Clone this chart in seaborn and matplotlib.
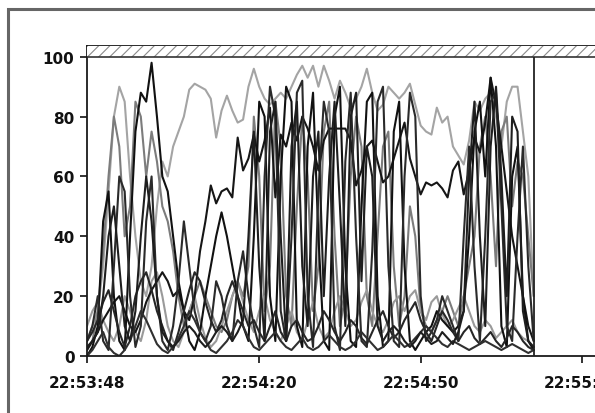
import numpy as np
import pandas as pd
import matplotlib
matplotlib.use("Agg")
import matplotlib.pyplot as plt
import matplotlib.dates as mdates
from matplotlib.patches import Rectangle
import seaborn as sns

# one sample per second, starting at 22:53:48
start = pd.Timestamp("2013-01-01 22:53:48")
tick_labels = ["22:53:48", "22:54:20", "22:54:50", "22:55:20"]
y_ticks = [0, 20, 40, 60, 80, 100]

# CPU load (%) per series
cpu_a = [5, 10, 15, 30, 55, 80, 90, 85, 60, 40, 25, 20,
         30, 50, 65, 60, 70, 75, 80, 89, 91, 90, 89, 86,
         73, 82, 87, 82, 78, 79, 90, 96, 90, 86, 84, 86,
         88, 86, 90, 94, 97, 93, 97, 90, 97, 92, 86, 92,
         88, 83, 86, 90, 96, 88, 82, 84, 90, 88, 86, 88,
         91, 84, 77, 75, 74, 83, 78, 80, 70, 67, 64, 72,
         85, 82, 86, 88, 80, 70, 85, 90, 90, 75, 60, 20]
cpu_b = [2, 5, 8, 12, 15, 18, 20, 15, 10, 8, 12, 18,
         22, 25, 28, 25, 20, 22, 15, 12, 20, 35, 45, 57,
         51, 55, 56, 53, 73, 62, 66, 74, 65, 72, 83, 53,
         74, 70, 78, 72, 80, 76, 70, 62, 72, 76, 76, 76,
         76, 72, 57, 62, 70, 72, 65, 58, 60, 66, 72, 78,
         66, 60, 54, 58, 57, 58, 56, 53, 62, 65, 54, 62,
         73, 68, 78, 93, 84, 70, 55, 40, 30, 20, 10, 5]
cpu_c = [0, 3, 10, 45, 55, 20, 5, 2, 40, 75, 88, 85,
         98, 80, 60, 55, 40, 25, 15, 5, 2, 8, 20, 30,
         40, 48, 40, 30, 20, 10, 5, 40, 85, 80, 20, 5,
         60, 90, 85, 10, 3, 70, 88, 40, 5, 2, 80, 90,
         30, 5, 3, 50, 85, 88, 20, 3, 5, 75, 85, 30,
         5, 2, 5, 8, 10, 15, 12, 10, 8, 10, 15, 40,
         75, 85, 60, 93, 70, 10, 3, 60, 70, 20, 5, 2]
cpu_d = [5, 10, 20, 5, 2, 30, 60, 55, 20, 3, 10, 45,
         60, 20, 5, 2, 10, 25, 45, 30, 15, 8, 5, 10,
         25, 20, 10, 5, 25, 35, 20, 10, 3, 60, 90, 80,
         15, 5, 40, 88, 92, 20, 3, 55, 85, 75, 10, 2,
         65, 88, 40, 5, 3, 35, 85, 90, 30, 5, 3, 60,
         88, 80, 20, 5, 8, 12, 20, 15, 10, 5, 40, 70,
         30, 5, 40, 85, 88, 50, 10, 5, 40, 70, 30, 5]
cpu_e = [2, 5, 15, 35, 60, 80, 70, 40, 50, 85, 80, 60,
         75, 65, 50, 45, 35, 20, 10, 15, 20, 25, 20, 15,
         10, 8, 12, 20, 25, 20, 30, 80, 60, 15, 30, 85,
         70, 20, 10, 50, 80, 60, 15, 30, 75, 85, 40, 10,
         20, 60, 80, 70, 20, 10, 40, 70, 75, 30, 10, 20,
         50, 40, 15, 10, 8, 12, 15, 20, 15, 10, 20, 30,
         40, 70, 80, 60, 30, 75, 80, 50, 65, 60, 40, 20]
cpu_f = [5, 8, 12, 18, 22, 15, 8, 3, 10, 20, 25, 28,
         22, 15, 10, 5, 2, 8, 15, 22, 28, 25, 18, 12,
         8, 12, 20, 25, 20, 15, 10, 12, 8, 5, 10, 15,
         8, 5, 10, 12, 8, 5, 6, 10, 15, 12, 8, 5,
         8, 12, 10, 6, 4, 8, 12, 15, 10, 6, 8, 12,
         15, 18, 12, 8, 5, 10, 15, 12, 8, 5, 8, 10,
         6, 4, 6, 8, 5, 3, 6, 10, 8, 5, 3, 2]
cpu_g = [10, 15, 18, 12, 8, 5, 10, 20, 15, 8, 5, 12,
         25, 28, 20, 10, 5, 3, 8, 15, 20, 12, 6, 3,
         5, 10, 15, 20, 25, 18, 12, 8, 15, 20, 12, 8,
         5, 10, 15, 8, 5, 12, 18, 10, 6, 8, 15, 20,
         15, 10, 12, 18, 22, 15, 10, 8, 12, 18, 20, 15,
         20, 22, 15, 12, 18, 20, 14, 10, 12, 16, 20, 15,
         10, 8, 12, 10, 6, 8, 10, 12, 8, 6, 5, 3]
cpu_h = [0, 2, 5, 8, 3, 1, 0, 2, 5, 10, 15, 12,
         8, 4, 2, 1, 3, 6, 10, 15, 12, 8, 5, 2,
         1, 3, 5, 8, 12, 10, 6, 3, 2, 4, 6, 8,
         5, 3, 2, 4, 6, 3, 2, 3, 5, 7, 5, 3,
         2, 3, 5, 8, 6, 4, 2, 3, 5, 7, 5, 3,
         4, 6, 8, 10, 8, 6, 4, 3, 5, 4, 3, 2,
         3, 4, 5, 4, 3, 2, 3, 4, 3, 2, 1, 2]
cpu_i = [3, 5, 8, 20, 40, 50, 30, 10, 5, 15, 40, 60,
         45, 20, 8, 5, 3, 5, 8, 10, 8, 5, 3, 5,
         8, 10, 8, 5, 8, 12, 40, 75, 30, 5, 75, 85,
         40, 5, 70, 85, 30, 10, 60, 75, 20, 60, 85, 50,
         10, 80, 88, 25, 70, 60, 10, 5, 8, 10, 8, 5,
         3, 5, 8, 6, 4, 5, 8, 6, 4, 8, 15, 60,
         85, 40, 10, 70, 90, 60, 20, 80, 75, 15, 5, 3]

series = {"a": cpu_a, "e": cpu_e, "g": cpu_g, "b": cpu_b, "c": cpu_c,
          "d": cpu_d, "f": cpu_f, "h": cpu_h, "i": cpu_i}
colors = {"a": "#a4a4a4", "e": "#7c7c7c", "g": "#9a9a9a", "b": "#161616",
          "c": "#111111", "d": "#2a2a2a", "f": "#262626", "h": "#303030",
          "i": "#1e1e1e"}

times = start + pd.to_timedelta(np.arange(len(cpu_a)), unit="s")
wide = pd.DataFrame(series)
wide["time"] = times
df = wide.melt(id_vars="time", var_name="series", value_name="cpu")

sns.set_style("ticks")
plt.rcParams["font.family"] = ["DejaVu Sans"]
plt.rcParams["hatch.linewidth"] = 0.8

fig = plt.figure(figsize=(5.95, 4.14), dpi=100)
# axes runs off the right edge like in the scan
ax = fig.add_axes([87 / 595, 57 / 414, 592 / 595, 310 / 414])

sns.lineplot(data=df, x="time", y="cpu", hue="series", hue_order=list(series),
             palette=colors, estimator=None, legend=False, linewidth=1.5, ax=ax)

# hatched band above 100 %
ax.axhspan(100, 103.6, facecolor="white", edgecolor="#8a8a8a", hatch="///",
           linewidth=0, zorder=3)
ax.axhline(100, color="#333333", lw=1.2, zorder=4)
ax.vlines(times[-1], 0, 100, color="#222222", lw=1.3, zorder=4)

ax.set_xlim(start, start + pd.Timedelta(seconds=110))
ax.set_ylim(0, 103.6)
tick_times = pd.to_datetime(["2013-01-01 " + s for s in tick_labels])
ax.set_xticks(tick_times)
ax.xaxis.set_major_formatter(mdates.DateFormatter("%H:%M:%S"))
ax.set_yticks(y_ticks)
ax.set_xlabel("")
ax.set_ylabel("")

for sp in ax.spines.values():
    sp.set_color("#1a1a1a")
    sp.set_linewidth(1.3)
ax.tick_params(axis="both", direction="out", length=5, width=1.2,
               colors="#111111", labelsize=11)
ax.tick_params(axis="x", pad=9)
ax.tick_params(axis="y", pad=4)
for lbl in ax.get_xticklabels() + ax.get_yticklabels():
    lbl.set_fontweight("bold")

# outer window frame
fig.patches.append(Rectangle((8 / 595, -0.1), 1.2, (414 - 10) / 414 + 0.1,
                             transform=fig.transFigure, fill=False,
                             edgecolor="#666666", lw=2.2))

fig.savefig("out.png", dpi=100)
